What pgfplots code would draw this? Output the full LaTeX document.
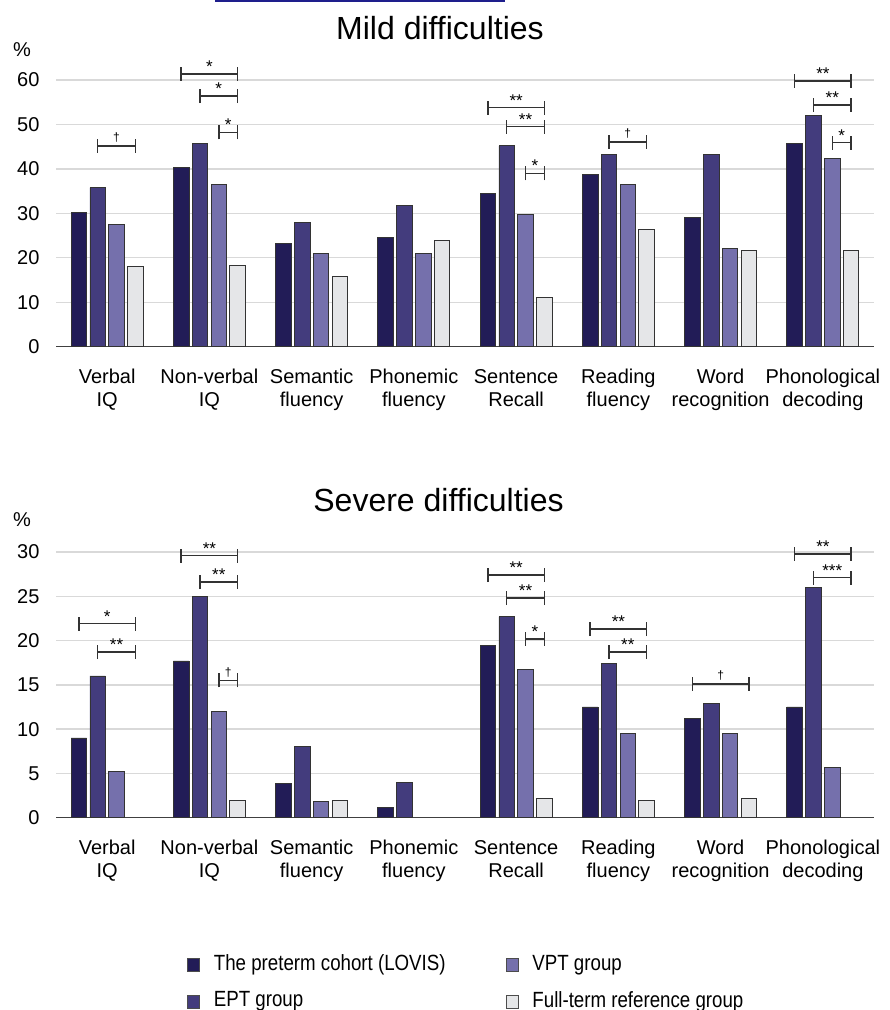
\documentclass[border=0pt]{standalone}
\usepackage{fontspec}
\setmainfont{Liberation Sans}
\newfontfamily\legfont[FakeStretch=0.85]{Liberation Sans}
\usepackage{pgfplots}
\pgfplotsset{compat=1.18}

\definecolor{cA}{HTML}{221C57}
\definecolor{cB}{HTML}{433C7D}
\definecolor{cC}{HTML}{7570AC}
\definecolor{cD}{HTML}{E5E6E8}
\definecolor{gridc}{HTML}{D9D9D9}
\definecolor{linkblue}{HTML}{1E1E8C}

\tikzset{brk/.style={draw=black!80, line width=1.5pt}}
\pgfplotsset{
  diffax/.style={
    scale only axis, width=818pt,
    xmin=-0.5, xmax=7.5, ymin=0,
    ybar, bar width=0.152,
    axis x line*=bottom, axis y line*=left,
    y axis line style={draw=none},
    x axis line style={draw=black!75, line width=1.5pt},
    major tick length=0pt,
    ymajorgrids, grid style={gridc, line width=1.3pt},
    xtick={0,...,7},
    xticklabels={Verbal\\IQ, Non-verbal\\IQ, Semantic\\fluency, Phonemic\\fluency, Sentence\\Recall, Reading\\fluency, Word\\recognition, Phonological\\decoding},
    xticklabel style={align=center, font=\fontsize{20}{23}\selectfont, yshift=-19pt},
    yticklabel style={font=\fontsize{20}{24}\selectfont, xshift=-13pt},
    /pgf/number format/assume math mode=true,
    clip=false,
    every axis plot/.append style={draw=black!80, line width=0.8pt},
    title style={anchor=base, yshift=-6pt, font=\fontsize{32}{32}\selectfont},
  },
}

\newcommand{\brk}[4]{%
  \draw[brk] (axis cs:#1,#3) -- node[midway, anchor=base, yshift=1.5pt, inner sep=0pt, font=\fontsize{17}{17}\selectfont] {#4} (axis cs:#2,#3);
  \draw[brk] ([yshift=-7pt]axis cs:#1,#3) -- ([yshift=7pt]axis cs:#1,#3);
  \draw[brk] ([yshift=-7pt]axis cs:#2,#3) -- ([yshift=7pt]axis cs:#2,#3);
}
\newcommand{\dg}{\raisebox{2.5pt}{\fontsize{12}{12}\selectfont †}}

\begin{document}
\begin{tikzpicture}
\path[use as bounding box] (0,0) rectangle (890pt,1010pt);
\draw[linkblue, line width=2pt] (215pt,1009pt) -- (505pt,1009pt);

% ---------------- Mild difficulties ----------------
\begin{axis}[diffax,
  at={(56pt,663.3pt)}, anchor=south west,
  height=288.9pt, ymax=65,
  ytick={0,10,...,60},
  title={Mild difficulties}, title style={at={(0.4694,1.0648)}},
]
\addplot[fill=cA, bar shift=-0.276] coordinates {(0,30.3) (1,40.3) (2,23.2) (3,24.5) (4,34.4) (5,38.8) (6,29.0) (7,45.7)};
\addplot[fill=cB, bar shift=-0.092] coordinates {(0,35.8) (1,45.8) (2,28.0) (3,31.8) (4,45.2) (5,43.3) (6,43.3) (7,52.1)};
\addplot[fill=cC, bar shift=0.092] coordinates {(0,27.5) (1,36.5) (2,21.0) (3,21.0) (4,29.7) (5,36.5) (6,22.1) (7,42.3)};
\addplot[fill=cD, bar shift=0.276] coordinates {(0,18.0) (1,18.3) (2,15.8) (3,23.9) (4,11.1) (5,26.3) (6,21.6) (7,21.6)};
\node[font=\fontsize{20}{20}\selectfont] at (axis description cs:-0.0416,1.0285) {\%};
\brk{-0.092}{0.276}{45.2}{\dg}
\brk{0.724}{1.276}{61.4}{*}
\brk{0.908}{1.276}{56.4}{*}
\brk{1.092}{1.276}{48.2}{*}
\brk{3.724}{4.276}{53.8}{**}
\brk{3.908}{4.276}{49.5}{**}
\brk{4.092}{4.276}{39.0}{*}
\brk{4.908}{5.276}{46.1}{\dg}
\brk{6.724}{7.276}{59.8}{**}
\brk{6.908}{7.276}{54.4}{**}
\brk{7.092}{7.276}{45.9}{*}
\end{axis}

% ---------------- Severe difficulties ----------------
\begin{axis}[diffax,
  at={(56pt,192.3pt)}, anchor=south west,
  height=283.4pt, ymax=32,
  ytick={0,5,...,30},
  title={Severe difficulties}, title style={at={(0.4676,1.0797)}},
  legend columns=2,
  legend cell align=left,
  legend style={at={(0.16,-0.4767)}, anchor=north west, draw=none, fill=none,
    inner sep=0pt, font=\legfont\fontsize{22}{22}\selectfont,
    column sep=12pt, row sep=15pt,
    /tikz/every even column/.append style={column sep=58pt}},
  legend image code/.code={\draw[#1, draw=black!70, line width=0.8pt] (0pt,-8pt) rectangle (12pt,5pt);},
]
\addplot[fill=cA, bar shift=-0.276] coordinates {(0,9.0) (1,17.7) (2,3.9) (3,1.2) (4,19.5) (5,12.5) (6,11.2) (7,12.5)};
\addlegendentry{The preterm cohort (LOVIS)}
\addplot[fill=cC, bar shift=0.092] coordinates {(0,5.2) (1,12.0) (2,1.8) (4,16.7) (5,9.5) (6,9.5) (7,5.7)};
\addlegendentry{VPT group}
\addplot[fill=cB, bar shift=-0.092] coordinates {(0,16.0) (1,25.0) (2,8.0) (3,4.0) (4,22.7) (5,17.4) (6,12.9) (7,26.0)};
\addlegendentry{EPT group}
\addplot[fill=cD, bar shift=0.276] coordinates {(1,1.9) (2,1.9) (4,2.2) (5,1.9) (6,2.2)};
\addlegendentry{Full-term reference group}
\node[font=\fontsize{20}{20}\selectfont] at (axis description cs:-0.0416,1.0505) {\%};
\brk{-0.276}{0.276}{21.9}{*}
\brk{-0.092}{0.276}{18.7}{**}
\brk{0.724}{1.276}{29.6}{**}
\brk{0.908}{1.276}{26.6}{**}
\brk{1.092}{1.276}{15.5}{\dg}
\brk{3.724}{4.276}{27.4}{**}
\brk{3.908}{4.276}{24.8}{**}
\brk{4.092}{4.276}{20.2}{*}
\brk{4.724}{5.276}{21.3}{**}
\brk{4.908}{5.276}{18.7}{**}
\brk{5.724}{6.276}{15.1}{\dg}
\brk{6.724}{7.276}{29.8}{**}
\brk{6.908}{7.276}{27.1}{***}
\end{axis}
\end{tikzpicture}
\end{document}
